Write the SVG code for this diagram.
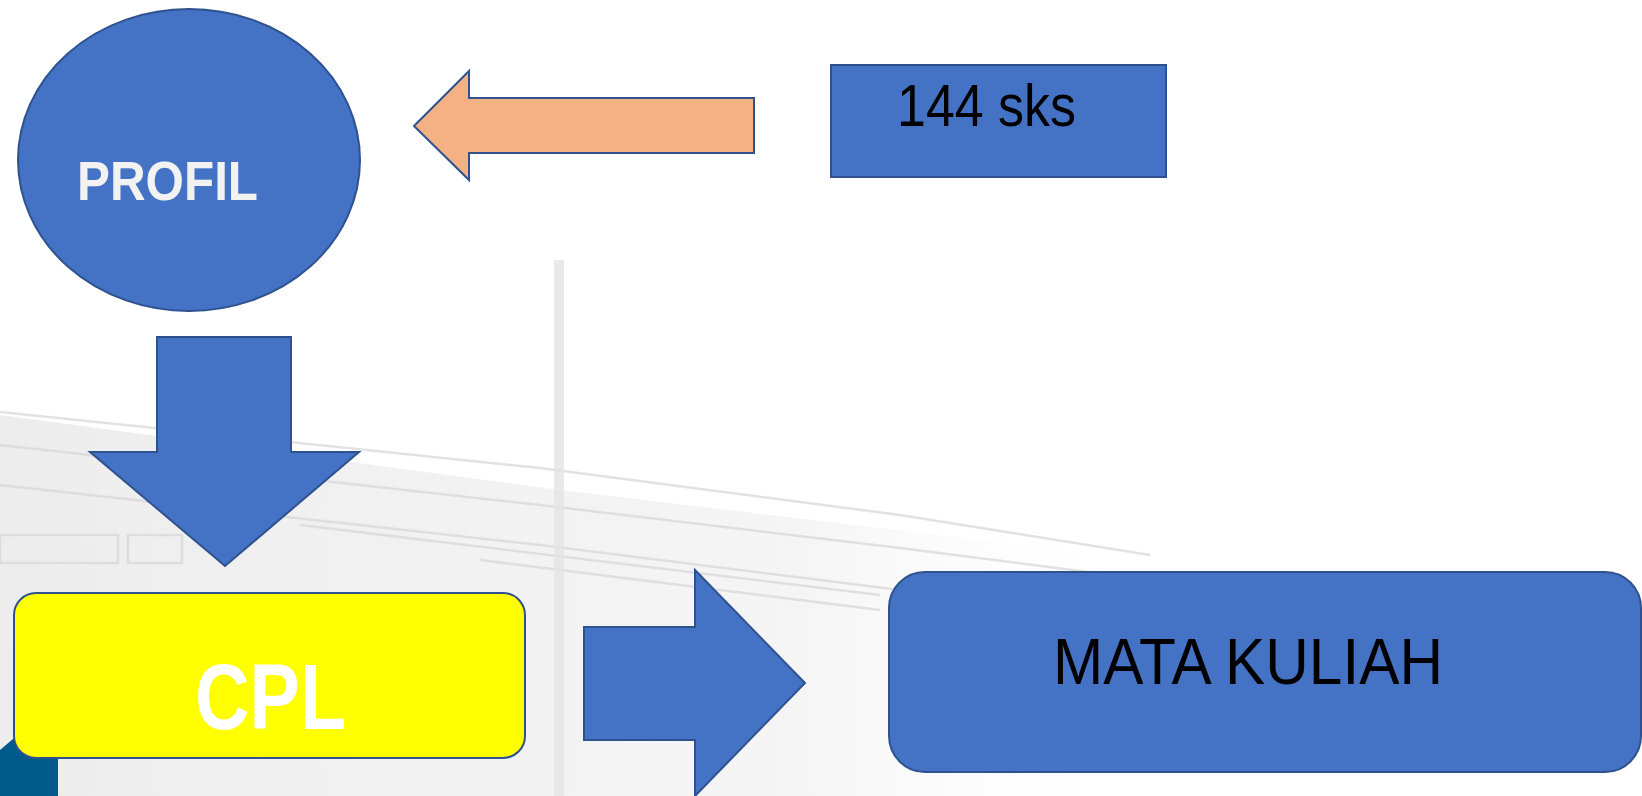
<svg xmlns="http://www.w3.org/2000/svg" width="1642" height="796" viewBox="0 0 1642 796">
<defs>
  <linearGradient id="fade" x1="0" y1="0" x2="1" y2="0">
    <stop offset="0" stop-color="#e8e8e8" stop-opacity="0.8"/>
    <stop offset="0.7" stop-color="#eeeeee" stop-opacity="0.6"/>
    <stop offset="1" stop-color="#ffffff" stop-opacity="0"/>
  </linearGradient>
</defs>
<style>
.blue{fill:#4472C4;stroke:#2F528F;stroke-width:2}
.orange{fill:#F4B183;stroke:#2F528F;stroke-width:2}
.bg{fill:none;stroke:#d6d6d6;stroke-width:2.5;opacity:0.7}
.lbl{font-family:"Liberation Sans",Arial,sans-serif}
</style>
<rect width="1642" height="796" fill="#ffffff"/>
<g id="background">
  <path d="M0,415 L560,490 L1150,560 L1150,796 L0,796 Z" fill="url(#fade)"/>
  <path class="bg" d="M0,412 L540,468 L900,515 L1150,555"/>
  <path class="bg" d="M0,445 L540,505 L900,548 L1150,580"/>
  <path class="bg" d="M0,485 L540,545 L900,590"/>
  <path class="bg" d="M300,525 L880,595"/>
  <path class="bg" d="M480,560 L880,610"/>
  <rect x="554" y="260" width="10" height="536" fill="#e4e4e4" opacity="0.8"/>
  <rect x="0" y="535" width="118" height="28" class="bg"/>
  <rect x="128" y="535" width="54" height="28" class="bg"/>
</g>
<path d="M0,750 L20,733 L58,733 L58,796 L0,796 Z" fill="#005A8C"/>
<g id="connectors">
  <path id="arrow-sks-profil" class="orange" d="M414,126 L469,71 L469,98 L754,98 L754,153 L469,153 L469,180 Z"/>
  <path id="arrow-profil-cpl" class="blue" d="M157,337 L291,337 L291,452 L359,452 L225,566 L90,452 L157,452 Z"/>
  <path id="arrow-cpl-mk" class="blue" d="M584,627 L695,627 L695,570 L805,683 L695,796 L695,740 L584,740 Z"/>
</g>
<g id="node-profil">
  <ellipse class="blue" cx="189" cy="160" rx="171" ry="151"/>
  <text class="lbl" x="77" y="200" font-size="56" font-weight="bold" fill="#F2F2F2" textLength="181" lengthAdjust="spacingAndGlyphs">PROFIL</text>
</g>
<g id="node-sks">
  <rect class="blue" x="831" y="65" width="335" height="112"/>
  <text class="lbl" x="897" y="126" font-size="59" fill="#000000" textLength="179" lengthAdjust="spacingAndGlyphs">144 sks</text>
</g>
<g id="node-cpl">
  <rect x="14" y="593" width="511" height="165" rx="22" ry="22" fill="#FFFF00" stroke="#2F528F" stroke-width="2"/>
  <text class="lbl" x="195" y="729" font-size="93" font-weight="bold" fill="#FFFFFF" textLength="151" lengthAdjust="spacingAndGlyphs">CPL</text>
</g>
<g id="node-matakuliah">
  <rect class="blue" x="889" y="572" width="752" height="200" rx="36" ry="36"/>
  <text class="lbl" x="1053" y="684" font-size="65" fill="#000000" textLength="390" lengthAdjust="spacingAndGlyphs">MATA KULIAH</text>
</g>
</svg>
